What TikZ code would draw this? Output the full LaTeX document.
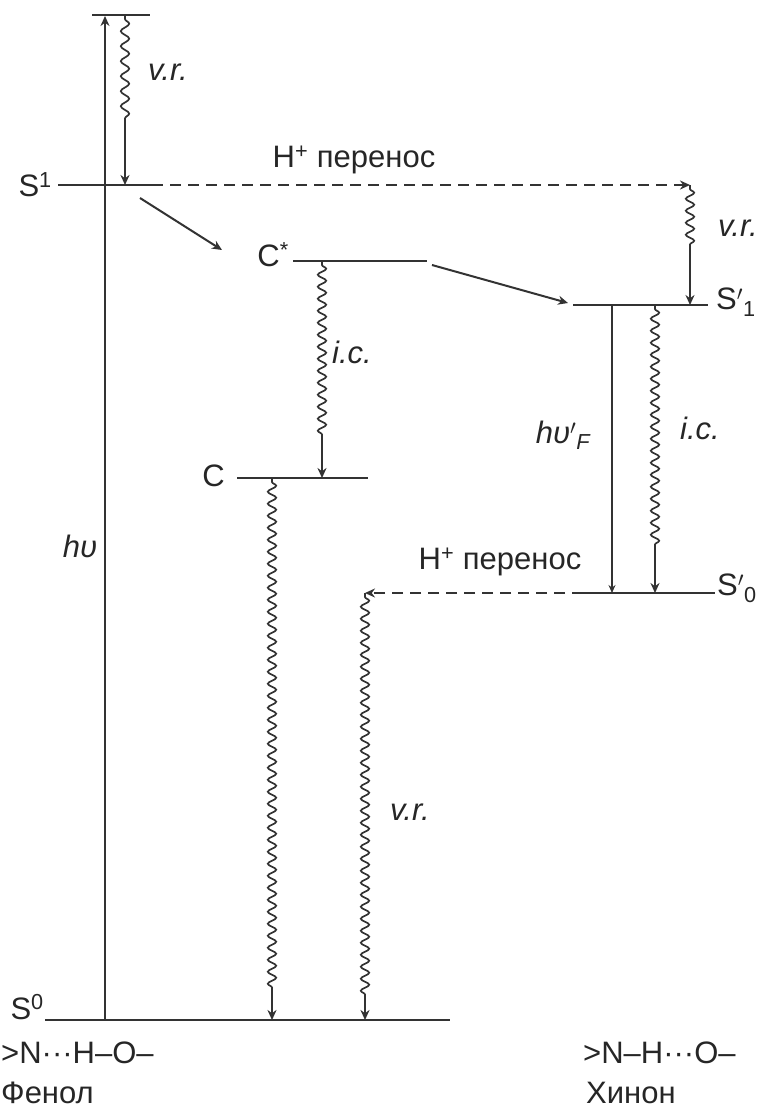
\documentclass[tikz,border=0pt]{standalone}
\usepackage{fontspec}
\setmainfont{Liberation Sans}
\usetikzlibrary{arrows.meta,decorations.pathmorphing}
\begin{document}
\begin{tikzpicture}[x=1pt,y=-1pt,
  ink/.style={draw=black!80, line width=2pt},
  levelline/.style={ink, line width=2.3pt},
  arr/.style={ink, -{Stealth[length=10pt,width=9pt]}},
  wavy/.style={arr, line width=1.7pt, decorate, decoration={snake, amplitude=4.2pt, segment length=12pt, pre length=4pt, post length=#1}},
  dashedarr/.style={arr, dash pattern=on 11pt off 7pt},
  lbl/.style={inner sep=0pt, text=black!85, font=\fontsize{31}{36}\selectfont},
  ilbl/.style={lbl, font=\fontsize{31}{36}\selectfont\itshape}]
\useasboundingbox (0,0) rectangle (766,1112);
% level end points
\coordinate (topL) at (92,15);   \coordinate (topR) at (150,15);
\coordinate (S1L) at (58,185);   \coordinate (S1R) at (152,185);
\coordinate (CsL) at (293,261);  \coordinate (CsR) at (427,261);
\coordinate (CL) at (237,478);   \coordinate (CR) at (368,478);
\coordinate (Sp1L) at (573,305); \coordinate (Sp1R) at (708,305);
\coordinate (Sp0L) at (583,593); \coordinate (Sp0R) at (715,593);
\coordinate (S0L) at (45,1020);  \coordinate (S0R) at (450,1020);
% levels
\draw[levelline] (topL) -- (topR);
\draw[levelline] (S1L) -- (S1R);
\draw[levelline] (CsL) -- (CsR);
\draw[levelline] (CL) -- (CR);
\draw[levelline] (Sp1L) -- (Sp1R);
\draw[levelline] (Sp0L) -- (Sp0R);
\draw[levelline] (S0L) -- (S0R);
% transition end points
\coordinate (hvB) at (105,1020); \coordinate (hvT) at (105,16);
\coordinate (vr1T) at (125,15);  \coordinate (vr1B) at (125,185);
\coordinate (ic1T) at (322,261); \coordinate (ic1B) at (322,478);
\coordinate (cwT) at (272,478);  \coordinate (cwB) at (272,1020);
\coordinate (vr2T) at (690,185); \coordinate (vr2B) at (690,305);
\coordinate (fT) at (612,305);   \coordinate (fB) at (612,593);
\coordinate (ic2T) at (655,305); \coordinate (ic2B) at (655,593);
\coordinate (vr3T) at (365,593); \coordinate (vr3B) at (365,1020);
\coordinate (d1a) at (140,198);  \coordinate (d1b) at (222,250);
\coordinate (d2a) at (432,265);  \coordinate (d2b) at (568,303);
% transitions
\draw[arr] (hvB) -- (hvT);
\draw[wavy=60pt, decoration={segment length=15pt}] (vr1T) -- (vr1B);
\draw[dashedarr] (S1R) -- (vr2T);
\draw[arr] (d1a) -- (d1b);
\draw[arr] (d2a) -- (d2b);
\draw[wavy=38pt] (ic1T) -- (ic1B);
\draw[wavy=30pt] (cwT) -- (cwB);
\draw[wavy=55pt] (vr2T) -- (vr2B);
\draw[arr, -{Stealth[length=8pt,width=7pt]}] (fT) -- (fB);
\draw[wavy=45pt] (ic2T) -- (ic2B);
\draw[dashedarr] (Sp0L) -- (vr3T);
\draw[wavy=25pt] (vr3T) -- (vr3B);
% labels
\node[lbl, anchor=east] (lS1) at ([xshift=-6pt]S1L) {S\textsuperscript{1}};
\node[ilbl] (lvr1) at (168,72) {v.r.};
\node[lbl] (lH1) at (354,160) {H\textsuperscript{+} перенос};
\node[lbl, anchor=east] (lCs) at ([xshift=-4pt,yshift=6pt]CsL) {C\textsuperscript{*}};
\node[ilbl] (lic1) at (352,352) {i.c.};
\node[lbl, anchor=east] (lC) at ([xshift=-12pt,yshift=2pt]CL) {C};
\node[ilbl] (lvr2) at (738,228) {v.r.};
\node[lbl, anchor=west] (lSp1) at ([xshift=8pt,yshift=3pt]Sp1R) {S$'$\textsubscript{1}};
\node[ilbl] (lF) at (563,435) {hυ$'$\textsubscript{\textit{F}}};
\node[ilbl] (lic2) at (700,428) {i.c.};
\node[lbl] (lH2) at (500,562) {H\textsuperscript{+} перенос};
\node[lbl, anchor=west] (lSp0) at ([xshift=2pt,yshift=5pt]Sp0R) {S$'$\textsubscript{0}};
\node[ilbl] (lhv) at (80,546) {hυ};
\node[ilbl] (lvr3) at (410,812) {v.r.};
\node[lbl, anchor=base east] (lS0) at ([xshift=-1pt,yshift=1pt]S0L) {S\textsuperscript{0}};
\node[lbl, anchor=west] (ph1) at (1,1053) {>N···H–O–};
\node[lbl, anchor=west] (ph2) at (1,1093) {Фенол};
\node[lbl, anchor=west] (qu1) at (583,1053) {>N–H···O–};
\node[lbl, anchor=west] (qu2) at (586,1093) {Хинон};
\end{tikzpicture}
\end{document}
